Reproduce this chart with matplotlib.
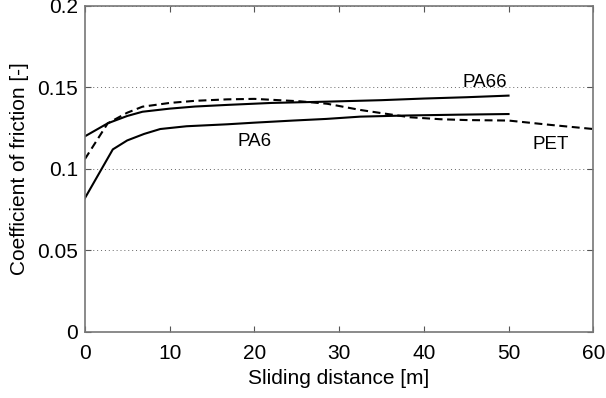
import matplotlib
matplotlib.use("Agg")
import matplotlib.pyplot as plt

plt.rcParams['font.family'] = ['Liberation Sans', 'DejaVu Sans']

pa6_x = [0, 3.3, 5, 7, 8.9, 12, 16.8, 20, 24.6, 28.5, 32.5, 38, 44, 50]
pa6_y = [0.082, 0.112, 0.1175, 0.1215, 0.1245, 0.1262, 0.1274, 0.1284, 0.1297, 0.1307, 0.1321, 0.1328, 0.1333, 0.1337]

pa66_x = [0, 2.7, 5, 6.8, 10, 13, 16.8, 22, 28.6, 35, 40, 45, 50]
pa66_y = [0.120, 0.128, 0.1325, 0.1351, 0.1370, 0.1383, 0.1393, 0.1405, 0.1413, 0.1422, 0.1432, 0.1440, 0.1450]

pet_x = [0, 2.7, 5, 6.8, 10, 13, 16.8, 20, 25.4, 28.6, 32.5, 35.2, 38.4, 42, 45, 50, 55, 60]
pet_y = [0.106, 0.128, 0.1345, 0.1382, 0.1405, 0.1418, 0.1427, 0.1430, 0.1415, 0.1400, 0.1362, 0.1341, 0.1317, 0.1305, 0.1300, 0.1297, 0.1270, 0.1245]

labels = {"PA66": (47.2, 0.153), "PA6": (20.0, 0.117), "PET": (55.0, 0.115)}

xticks = [0, 10, 20, 30, 40, 50, 60]
yticks = [0, 0.05, 0.1, 0.15, 0.2]
yticklabels = ["0", "0.05", "0.1", "0.15", "0.2"]

fig = plt.figure(figsize=(6.06, 3.98), dpi=100)
ax = fig.add_axes([0.140, 0.166, 0.839, 0.819])

ax.plot(pa6_x, pa6_y, color='black', lw=1.5)
ax.plot(pa66_x, pa66_y, color='black', lw=1.5)
ax.plot(pet_x, pet_y, color='black', lw=1.5, linestyle=(0, (3.8, 2.2)))

for name, (x, y) in labels.items():
    ax.text(x, y, name, fontsize=13.5, ha='center', va='center')

ax.set_xlim(0, 60)
ax.set_ylim(0, 0.2)
ax.set_xticks(xticks)
ax.set_xticklabels([str(t) for t in xticks])
ax.set_yticks(yticks)
ax.set_yticklabels(yticklabels)
ax.tick_params(direction='in', top=True, right=True, length=4, width=0.8,
               color='#555555', labelsize=15)
ax.tick_params(axis='x', pad=9)
ax.tick_params(axis='y', pad=5)
ax.yaxis.grid(True, linestyle=(0, (1, 3)), color='#666666', lw=0.7)
for s in ax.spines.values():
    s.set_color('#777777')
    s.set_linewidth(1.2)

ax.set_xlabel("Sliding distance [m]", fontsize=15, labelpad=4)
ax.set_ylabel("Coefficient of friction [-]", fontsize=15, labelpad=6)

fig.savefig("out.png", dpi=100)
